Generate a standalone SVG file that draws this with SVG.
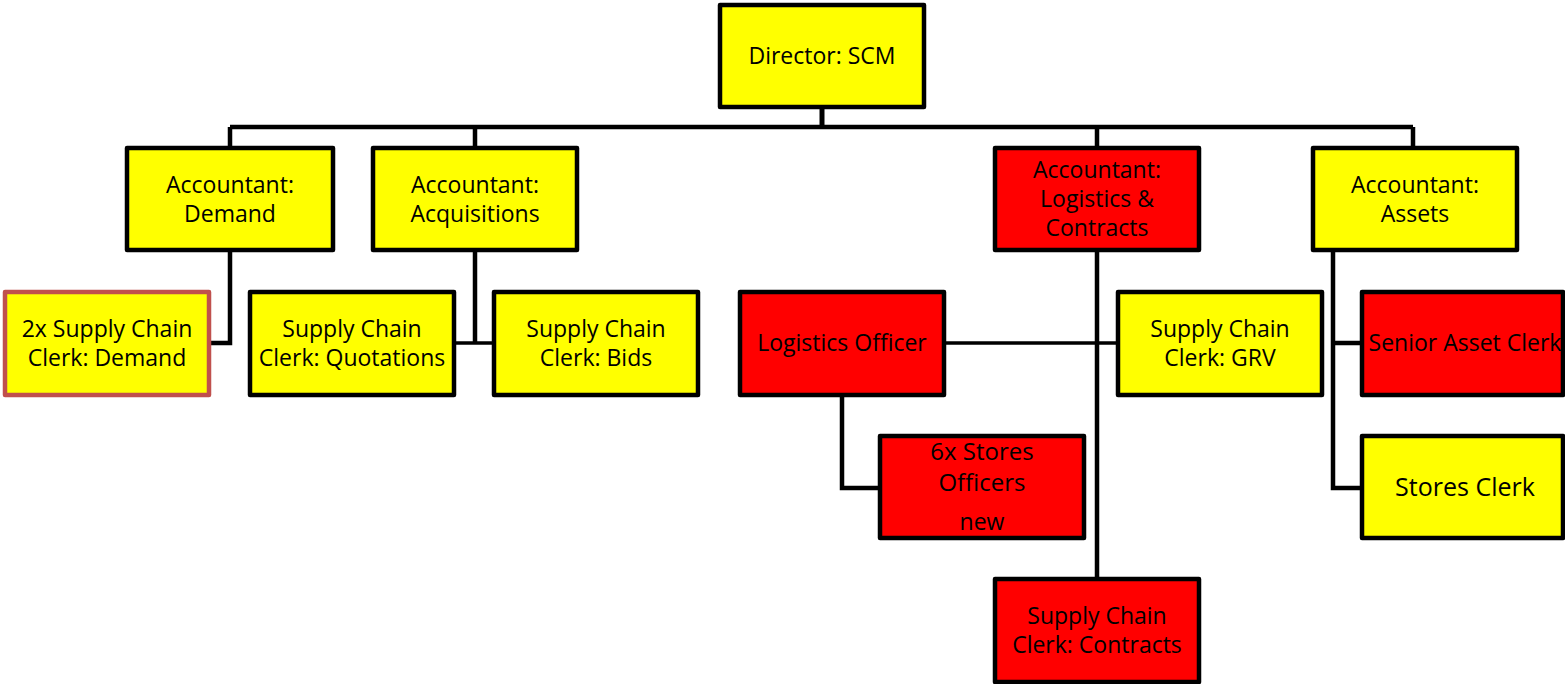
<svg xmlns="http://www.w3.org/2000/svg" width="1565" height="684" viewBox="0 0 1565 684">
<style>
.box{stroke:#000;stroke-width:4.5;stroke-linejoin:round}
.y{fill:#FFFF00}
.r{fill:#FF0000}
.alt{stroke:#C0504D}
text{font-family:"Open Sans","DejaVu Sans",sans-serif;font-size:23px;fill:#000;text-anchor:middle}
.big{font-size:24px}
.big2{font-size:25px}
.ln{fill:none;stroke:#000;stroke-width:4.5;stroke-linejoin:miter}
.thin{stroke-width:3.5}
</style>
<rect width="1565" height="684" fill="#fff"/>
<g id="connectors">
<path class="ln" d="M230,127 H1413" />
<path class="ln" d="M822,107 V127" style="stroke-width:5"/>
<path class="ln" d="M230,127 V148 M475,127 V148 M1097,127 V148 M1413,127 V148"/>
<path class="ln" d="M230,250 V343 H209"/>
<path class="ln" d="M475,250 V343"/>
<path class="ln thin" d="M454,343 H494"/>
<path class="ln" d="M1097,250 V579"/>
<path class="ln thin" d="M944,343 H1118"/>
<path class="ln" d="M842,395 V488 H880"/>
<path class="ln" d="M1333,250 V488 H1362 M1333,343 H1362"/>
</g>
<g id="director">
<rect class="box y" x="720" y="5" width="204" height="102"/>
<text x="822" y="64">Director: SCM</text>
</g>
<g id="acc-demand">
<rect class="box y" x="127" y="148" width="206" height="102"/>
<text x="230" y="193">Accountant:</text>
<text x="230" y="222">Demand</text>
</g>
<g id="acc-acquisitions">
<rect class="box y" x="373" y="148" width="204" height="102"/>
<text x="475" y="193">Accountant:</text>
<text x="475" y="222">Acquisitions</text>
</g>
<g id="acc-logistics">
<rect class="box r" x="995" y="148" width="204" height="102"/>
<text x="1097" y="178">Accountant:</text>
<text x="1097" y="207">Logistics &amp;</text>
<text x="1097" y="236">Contracts</text>
</g>
<g id="acc-assets">
<rect class="box y" x="1313" y="148" width="204" height="102"/>
<text x="1415" y="193">Accountant:</text>
<text x="1415" y="222">Assets</text>
</g>
<g id="clerk-demand">
<rect class="box y alt" x="5" y="292" width="204" height="103"/>
<text x="107" y="337">2x Supply Chain</text>
<text x="107" y="366">Clerk: Demand</text>
</g>
<g id="clerk-quotations">
<rect class="box y" x="250" y="292" width="204" height="103"/>
<text x="352" y="337">Supply Chain</text>
<text x="352" y="366">Clerk: Quotations</text>
</g>
<g id="clerk-bids">
<rect class="box y" x="494" y="292" width="204" height="103"/>
<text x="596" y="337">Supply Chain</text>
<text x="596" y="366">Clerk: Bids</text>
</g>
<g id="logistics-officer">
<rect class="box r" x="740" y="292" width="204" height="103"/>
<text x="842" y="351">Logistics Officer</text>
</g>
<g id="clerk-grv">
<rect class="box y" x="1118" y="292" width="204" height="103"/>
<text x="1220" y="337">Supply Chain</text>
<text x="1220" y="366">Clerk: GRV</text>
</g>
<g id="senior-asset-clerk">
<rect class="box r" x="1362" y="292" width="201" height="103"/>
<text x="1465" y="351">Senior Asset Clerk</text>
</g>
<g id="stores-officers">
<rect class="box r" x="880" y="436" width="204" height="102"/>
<text class="big" x="982" y="460">6x Stores</text>
<text class="big" x="982" y="491">Officers</text>
<text x="982" y="530">new</text>
</g>
<g id="stores-clerk">
<rect class="box y" x="1362" y="436" width="201" height="102"/>
<text class="big2" x="1465" y="496">Stores Clerk</text>
</g>
<g id="clerk-contracts">
<rect class="box r" x="995" y="579" width="204" height="103"/>
<text x="1097" y="624">Supply Chain</text>
<text x="1097" y="653">Clerk: Contracts</text>
</g>
</svg>
